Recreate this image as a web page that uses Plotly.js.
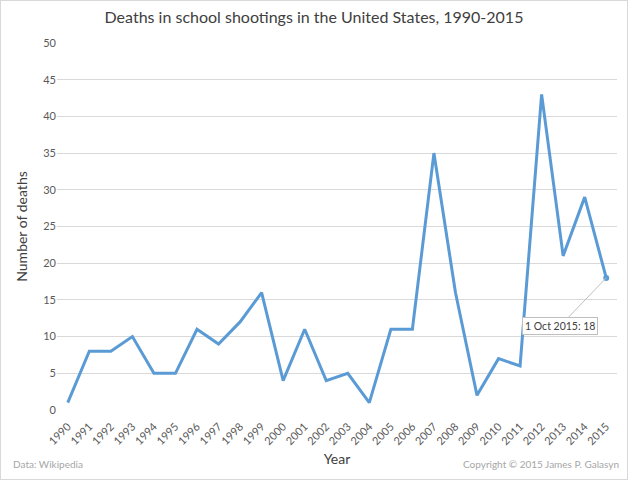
<!DOCTYPE html>
<html>
<head>
<meta charset="utf-8">
<script src="https://cdn.plot.ly/plotly-3.0.1.min.js"></script>
<style>
	body { margin: 0; background: #fff; }
	#chart { width: 626px; height: 478px; border: 1px solid #d9d9d9; }
</style>
</head>
<body>
<div id="chart"></div>
<script>
// values
const years = ["1990", "1991", "1992", "1993", "1994", "1995", "1996", "1997", "1998", "1999",
	"2000", "2001", "2002", "2003", "2004", "2005", "2006", "2007", "2008", "2009",
	"2010", "2011", "2012", "2013", "2014", "2015"]
const deaths = [1, 8, 8, 10, 5, 5, 11, 9, 12, 16,
	4, 11, 4, 5, 1, 11, 11, 35, 16, 2,
	7, 6, 43, 21, 29, 18]
const yTicks = [0, 5, 10, 15, 20, 25, 30, 35, 40, 45, 50]

const FONT = "Lato, 'Open Sans', sans-serif"
const lastIdx = years.length - 1

const trace = {
	x: years,
	y: deaths,
	type: 'scatter',
	mode: 'lines',
	line: { color: '#5b9bd5', width: 3 },
	hoverinfo: 'skip'
}

// small dot on the labelled point
const lastPoint = {
	x: [years[lastIdx]],
	y: [deaths[lastIdx]],
	type: 'scatter',
	mode: 'markers',
	marker: { color: '#5b9bd5', size: 6 },
	hoverinfo: 'skip'
}

const layout = {
	width: 626,
	height: 478,
	margin: { l: 56, r: 10, t: 42, b: 69 },
	paper_bgcolor: '#fff',
	plot_bgcolor: '#fff',
	showlegend: false,
	font: { family: FONT, color: '#595959' },
	title: {
		text: 'Deaths in school shootings in the United States, 1990-2015',
		font: { family: FONT, size: 16, color: '#404040' },
		x: 0.5, xanchor: 'center',
		y: 0.965, yanchor: 'middle'
	},
	xaxis: {
		type: 'category',
		range: [-0.5, lastIdx + 0.5],
		tickangle: -45,
		tickfont: { size: 11, color: '#595959' },
		showgrid: false,
		showline: false,
		zeroline: false,
		ticks: 'outside',
		ticklen: 5,
		tickcolor: 'rgba(0,0,0,0)',
		title: { text: 'Year', font: { size: 14, color: '#404040' }, standoff: 8 }
	},
	yaxis: {
		range: [0, 50],
		tickvals: yTicks,
		tickfont: { size: 11, color: '#595959' },
		gridcolor: '#d9d9d9',
		gridwidth: 1,
		zeroline: false,
		showline: false,
		ticks: '',
		ticklen: 0,
		title: { text: 'Number of deaths', font: { size: 14, color: '#404040' }, standoff: 12 }
	},
	annotations: [
		{
			x: lastIdx, y: deaths[lastIdx],
			xref: 'x', yref: 'y',
			text: '1 Oct 2015: ' + deaths[lastIdx],
			showarrow: true,
			arrowhead: 0,
			arrowwidth: 1,
			arrowcolor: '#bfbfbf',
			ax: -46, ay: 48,
			bordercolor: '#bfbfbf',
			borderwidth: 1,
			borderpad: 2,
			bgcolor: '#fff',
			font: { size: 10.5, color: '#404040' }
		},
		{
			text: 'Data: Wikipedia',
			xref: 'paper', yref: 'paper',
			x: -0.083, y: -0.148,
			xanchor: 'left', yanchor: 'middle',
			showarrow: false,
			font: { size: 10, color: '#a6a6a6' }
		},
		{
			text: 'Copyright © 2015 James P. Galasyn',
			xref: 'paper', yref: 'paper',
			x: 1.007, y: -0.148,
			xanchor: 'right', yanchor: 'middle',
			showarrow: false,
			font: { size: 10, color: '#a6a6a6' }
		}
	]
}

Plotly.newPlot('chart', [trace, lastPoint], layout, { displayModeBar: false, staticPlot: true })
</script>
</body>
</html>
